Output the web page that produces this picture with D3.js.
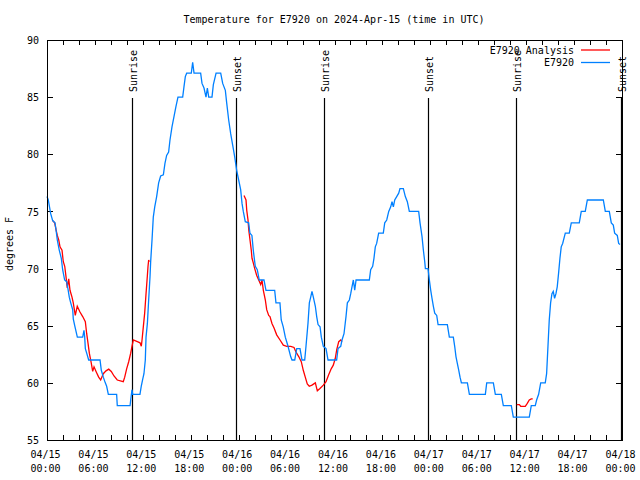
<!DOCTYPE html>
<html><head><meta charset="utf-8">
<script src="https://cdn.jsdelivr.net/npm/d3@7"></script>
<style>
body{margin:0;background:#fff;}
svg{display:block;}
text{font-family:"DejaVu Sans Mono",monospace;font-size:10px;fill:#000;}
</style></head>
<body>
<script>
// Hours since 2024-04-15 00:00 UTC
const obsHours = [0.0,0.16,0.46,0.71,1.0,1.13,1.29,1.54,1.79,1.96,2.21,2.46,2.63,2.79,2.97,3.22,3.29,3.47,3.80,4.47,4.63,4.72,4.80,4.97,5.22,6.64,6.80,7.05,7.30,7.47,7.68,8.72,8.80,10.4,10.48,10.64,10.73,11.64,11.8,11.98,12.14,12.31,12.40,12.57,12.73,12.9,12.98,13.15,13.31,13.49,13.73,13.98,14.23,14.57,14.77,14.98,15.23,15.40,15.65,15.90,16.15,16.40,16.99,17.15,17.32,17.49,18.07,18.24,18.41,19.24,19.41,19.66,19.91,20.08,20.25,20.66,20.83,21.17,21.75,22.0,22.33,22.5,22.75,23.0,23.25,23.50,23.75,24.0,24.25,24.42,24.58,24.83,25.25,25.41,25.66,25.83,26.08,26.33,26.58,27.17,27.42,28.51,28.67,29.17,29.33,29.58,29.84,30.18,30.51,30.68,31.02,31.27,31.68,31.93,32.27,32.43,32.68,32.85,33.02,33.18,33.35,33.60,33.77,33.94,34.19,34.35,34.60,34.94,35.19,36.27,36.44,36.78,36.94,37.19,37.44,37.61,37.86,38.03,38.19,38.36,38.53,38.70,40.36,40.53,40.78,40.94,41.11,41.28,41.53,42.11,42.29,42.54,42.79,43.04,43.20,43.37,43.54,43.79,44.04,44.20,44.62,44.87,45.12,45.37,46.54,46.71,46.96,47.13,47.30,47.38,47.71,47.88,48.05,48.21,48.38,48.55,48.80,48.97,50.13,50.38,50.88,51.05,51.21,51.38,51.56,51.72,51.89,52.64,52.89,54.89,55.06,55.89,56.14,56.89,57.14,58.14,58.39,60.39,60.64,61.14,61.31,61.56,61.82,62.39,62.56,62.73,62.89,63.06,63.23,63.39,63.56,63.73,63.89,64.06,64.23,64.39,64.57,64.90,65.40,65.65,66.65,66.90,67.40,67.66,69.66,69.91,70.41,70.66,70.91,71.08,71.41,71.58,71.75];
const obsTemps = [76.3,76.0,74.8,74.2,74.0,73.4,72.5,71.6,70.9,69.9,69.0,68.85,68.2,67.5,67.0,66.4,65.6,65.0,64.0,64.0,64.6,64.0,63.0,62.6,62.0,62.0,61.1,60.5,60.0,59.7,59.0,59.0,58.0,58.0,58.5,59.4,59.0,59.0,59.7,60.3,60.8,62.0,64.0,65.2,67.25,69.3,70.6,72.5,74.5,75.4,76.3,77.5,78.1,78.2,79.2,79.9,80.2,81.25,82.4,83.3,84.2,85.0,85.0,85.9,86.8,87.1,87.1,88.05,87.1,87.1,86.2,85.8,85.0,85.8,85.0,85.0,86.1,87.1,87.1,86.2,85.6,84.5,83.0,81.8,80.8,79.8,78.6,77.75,76.9,75.7,75.0,74.1,74.0,73.1,72.9,71.6,70.2,69.9,69.0,69.0,68.1,68.1,67.0,67.0,65.5,64.9,64.0,63.2,62.3,62.0,62.0,63.0,63.0,62.0,62.0,63.2,65.2,67.0,67.5,68.0,67.5,66.7,65.8,65.1,64.9,64.0,63.2,63.0,62.0,62.0,63.0,63.2,63.75,64.3,65.8,67.0,67.25,67.8,68.4,69.0,68.1,69.0,69.0,69.9,70.2,70.9,71.9,72.2,73.1,73.1,74.0,74.25,75.0,75.4,75.85,75.4,76.0,76.3,76.6,77.0,77.0,76.3,75.85,75.0,75.0,74.0,72.8,71.6,70.6,70.0,70.0,69.0,68.1,67.4,66.7,66.1,65.9,65.1,65.1,64.0,64.0,63.2,62.3,61.7,61.1,60.5,60.0,60.0,59.0,59.0,60.0,60.0,59.0,59.0,58.0,58.0,57.0,57.0,58.0,58.0,58.5,59.0,60.0,60.0,60.8,63.2,65.5,67.0,67.8,68.0,67.4,67.8,68.4,69.6,70.9,71.9,72.2,73.1,73.1,74.0,74.0,75.0,75.0,76.0,76.0,75.0,75.0,74.0,73.8,73.1,72.9,72.2,72.1];

// Analysis series (null = gap)
const anaHours = [0.71,0.96,1.13,1.29,1.47,1.63,1.88,2.04,2.22,2.38,2.54,2.72,2.88,3.13,3.29,3.54,3.79,4.13,4.47,4.80,4.97,5.13,5.30,5.55,5.72,5.89,6.14,6.47,6.72,7.05,7.39,7.73,8.05,8.39,8.80,9.55,9.73,9.98,10.23,10.48,10.64,10.81,11.31,11.65,11.81,11.90,12.06,12.23,12.40,12.56,12.65,12.73,12.81,
 18.0,
 24.67,24.92,25.01,25.17,25.26,25.42,25.58,25.67,25.83,26.01,26.26,26.51,26.76,26.92,27.09,27.34,27.51,27.76,27.92,28.17,28.43,28.76,29.18,29.59,30.02,30.52,30.93,31.18,31.52,31.84,32.09,32.34,32.59,32.84,33.18,33.60,33.85,34.18,34.60,34.94,35.27,35.60,35.85,36.10,36.28,36.53,36.78,36.94,
 48.0,
 58.82,59.14,59.32,59.89,60.14,60.39,60.64,60.82];
const anaTemps = [74.2,74.0,73.4,72.9,72.5,71.9,71.6,70.6,70.2,69.3,68.3,69.1,68.1,67.5,67.0,65.9,66.7,66.2,65.8,65.35,64.3,63.5,62.6,61.7,61.0,61.4,61.0,60.5,60.25,60.8,61.05,61.2,61.0,60.6,60.25,60.1,60.5,61.25,61.85,62.6,63.2,63.75,63.6,63.5,63.2,63.75,64.9,66.1,67.8,69.3,70.2,70.75,70.6,
 null,
 76.4,76.0,75.1,74.25,73.4,72.5,71.6,70.9,70.5,70.0,69.4,69.0,68.6,69.0,68.1,67.25,66.4,65.9,65.8,65.2,64.8,64.2,63.75,63.3,63.2,63.2,63.1,62.7,62.3,61.85,61.1,60.5,59.9,59.7,59.8,60.0,59.3,59.5,59.8,60.1,60.7,61.25,61.55,62.15,62.9,63.6,63.75,63.6,
 null,
 58.1,58.1,57.95,57.95,58.2,58.5,58.6,58.6];

const sunLabels = ["Sunrise","Sunset","Sunrise","Sunset","Sunrise","Sunset"];
const sunHours = [10.68,23.72,34.72,47.75,58.69,71.83];

const yTicks = [55,60,65,70,75,80,85,90];
const seriesNames = ["E7920 Analysis","E7920"];
const seriesColors = ["#ff0000","#0080ff"];

const W=640,H=480;
const m={l:47,r:622,t:40,b:440};
const t0 = Date.UTC(2024,3,15);
const toDate = h => new Date(t0 + h*3600e3);

const svg = d3.select("body").append("svg").attr("width",W).attr("height",H);

const x = d3.scaleUtc().domain([toDate(0),toDate(72)]).range([m.l,m.r]);
const y = d3.scaleLinear().domain([55,90]).range([m.b,m.t]);

// title
svg.append("text").attr("x",334).attr("y",23).attr("text-anchor","middle")
  .text("Temperature for E7920 on 2024-Apr-15 (time in UTC)");
// y label
svg.append("text").attr("transform","translate(13,244) rotate(-90)").attr("text-anchor","middle").text("degrees F");

// x axis ticks (every 2 hours)
const xTickVals = d3.range(0,73,2).map(toDate);
const fmtDate = d3.utcFormat("%m/%d"), fmtTime = d3.utcFormat("%H:%M");
const gxb = svg.append("g").attr("transform",`translate(0,${m.b})`)
  .call(d3.axisBottom(x).tickValues(xTickVals).tickSize(-5).tickPadding(0).tickFormat(()=>""));
gxb.select(".domain").remove();
gxb.selectAll(".tick").each(function(d){
  if (d.getUTCHours()%6!==0) return;
  const t = d3.select(this).select("text").attr("y",0).attr("dy",null).attr("x",-2);
  t.append("tspan").attr("x",-2).attr("y",18).text(fmtDate(d));
  t.append("tspan").attr("x",-2).attr("y",32).text(fmtTime(d));
});
const gxt = svg.append("g").attr("transform",`translate(0,${m.t})`)
  .call(d3.axisTop(x).tickValues(xTickVals).tickSize(-5).tickFormat(()=>""));
gxt.select(".domain").remove();

// y axis
const gyl = svg.append("g").attr("transform",`translate(${m.l},0)`)
  .call(d3.axisLeft(y).tickValues(yTicks).tickSize(-6).tickPadding(8).tickFormat(d3.format("d")));
gyl.select(".domain").remove();
gyl.selectAll("text").attr("dy","0.36em");
const gyr = svg.append("g").attr("transform",`translate(${m.r},0)`)
  .call(d3.axisRight(y).tickValues(yTicks).tickSize(-6).tickFormat(()=>""));
gyr.select(".domain").remove();
svg.selectAll(".tick line").attr("stroke","#000").attr("shape-rendering","crispEdges");
svg.selectAll(".tick text").attr("fill","#000").style("font-family",'"DejaVu Sans Mono",monospace').style("font-size","10px");

// sunrise/sunset
sunHours.forEach((h,i)=>{
  const xx = Math.round(x(toDate(h)))+0.5;
  svg.append("line").attr("x1",xx).attr("x2",xx).attr("y1",98).attr("y2",m.b)
    .attr("stroke","#000").attr("stroke-width",1.2);
  svg.append("text").attr("transform",`translate(${xx+4},92) rotate(-90)`).text(sunLabels[i]);
});

// lines
const line = d3.line().defined(d=>d[1]!==null).x(d=>x(toDate(d[0]))).y(d=>y(d[1]));
const anaData = anaHours.map((h,i)=>[h,anaTemps[i]]);
const obsData = obsHours.map((h,i)=>[h,obsTemps[i]]);
svg.append("path").datum(anaData).attr("d",line).attr("fill","none")
  .attr("stroke",seriesColors[0]).attr("stroke-width",1.3);
svg.append("path").datum(obsData).attr("d",line).attr("fill","none")
  .attr("stroke",seriesColors[1]).attr("stroke-width",1.3);

// legend
seriesNames.forEach((n,i)=>{
  const yy = 50 + i*12.5;
  svg.append("text").attr("x",574).attr("y",yy).attr("dy","0.36em").attr("text-anchor","end").text(n);
  svg.append("line").attr("x1",581).attr("x2",610).attr("y1",yy).attr("y2",yy)
    .attr("stroke",seriesColors[i]).attr("stroke-width",1.3);
});

// frame
svg.append("rect").attr("x",m.l+0.5).attr("y",m.t+0.5).attr("width",m.r-m.l).attr("height",m.b-m.t)
  .attr("fill","none").attr("stroke","#000").attr("stroke-width",1);
</script>
</body></html>
